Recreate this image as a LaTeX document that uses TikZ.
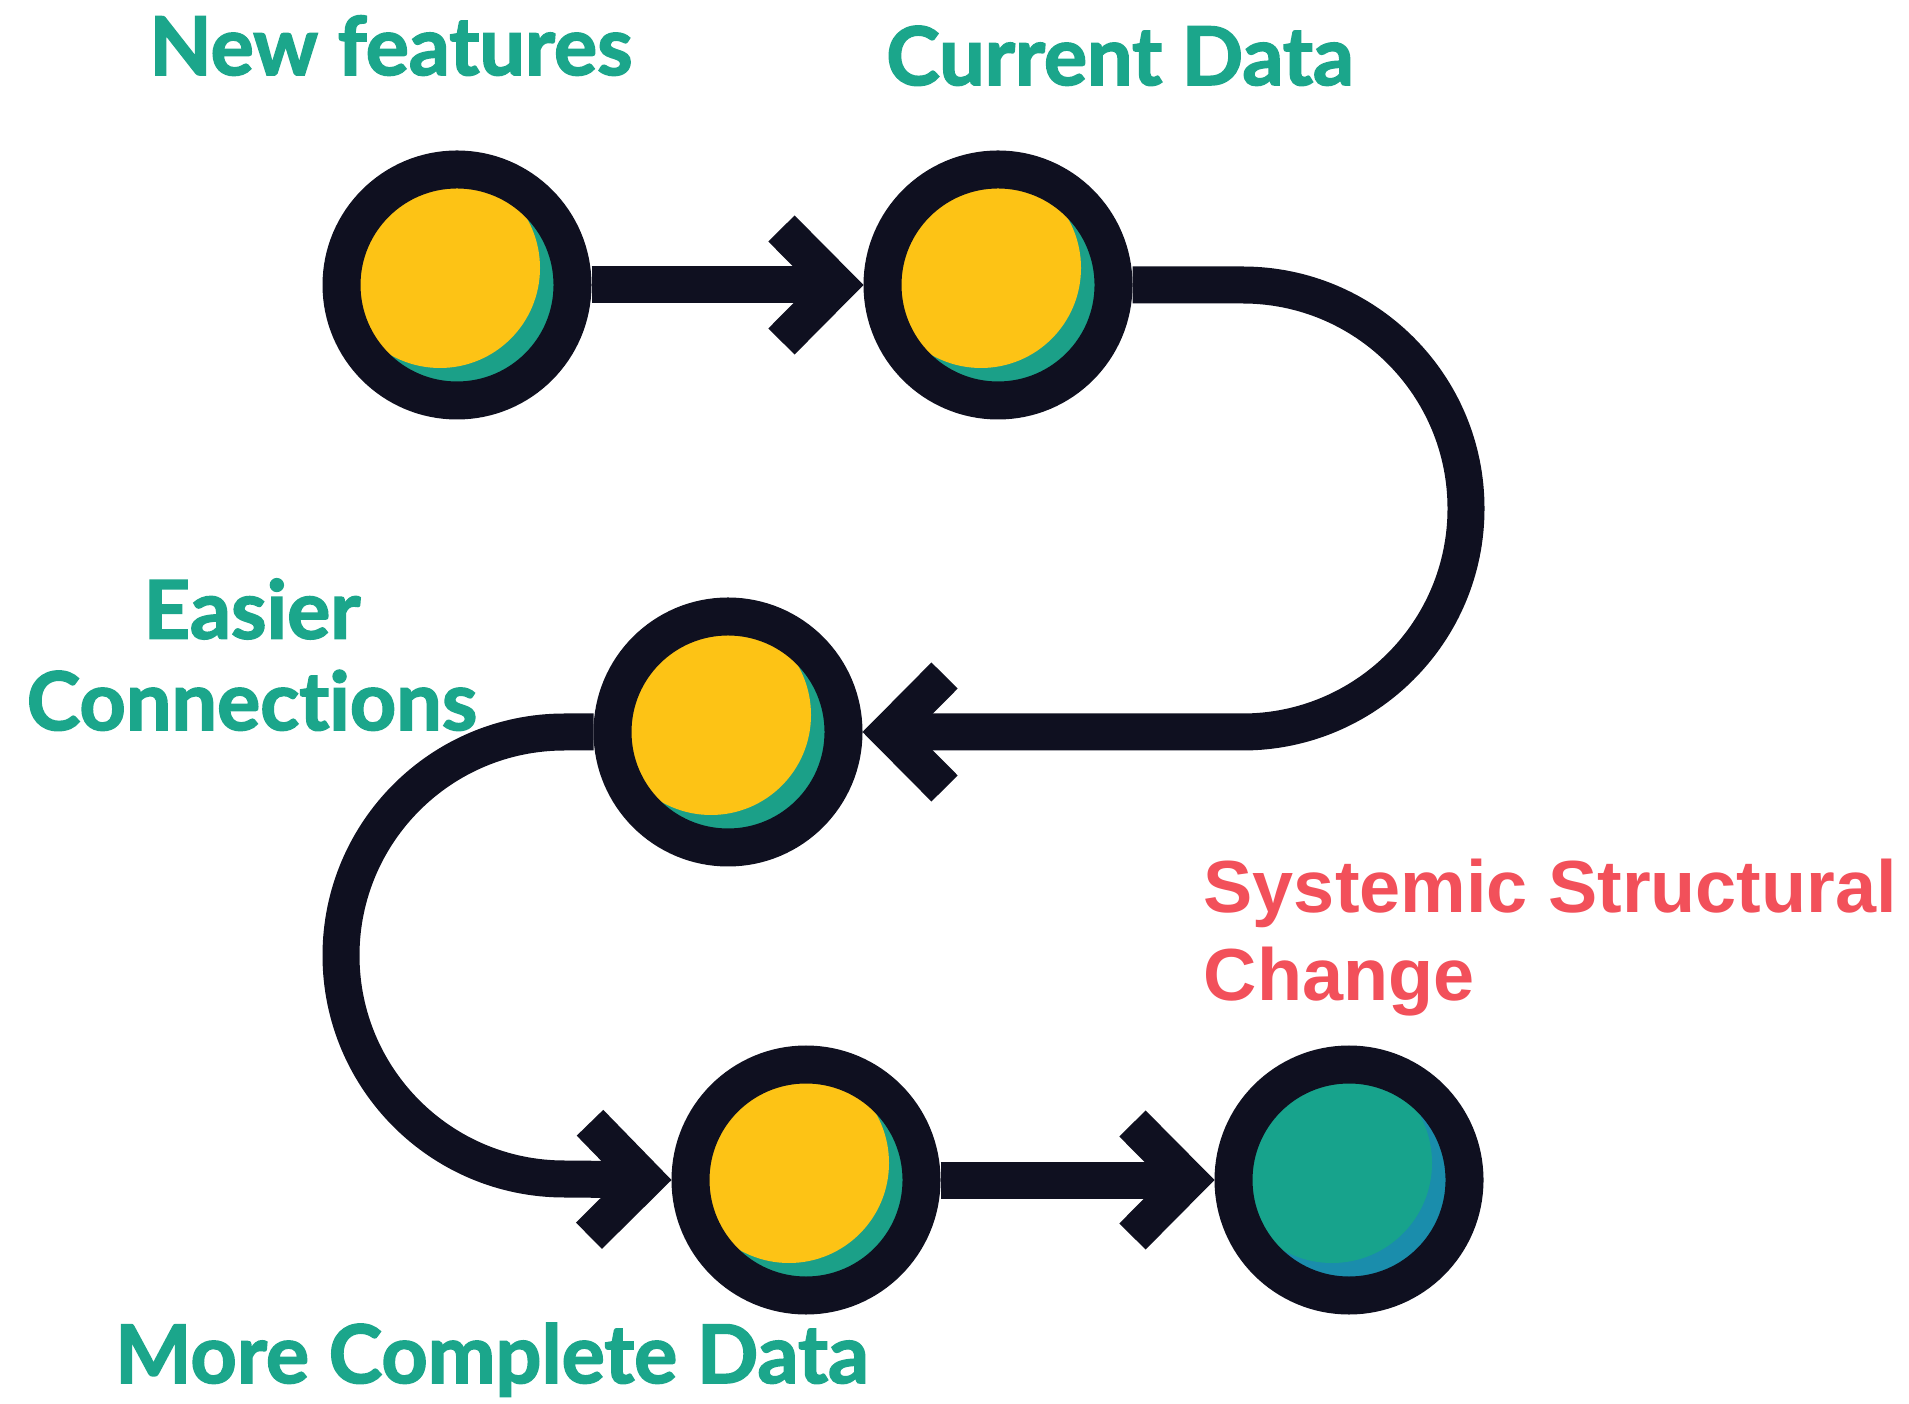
\documentclass[tikz,border=0pt]{standalone}
\usepackage{fontspec}
\usepackage{tikz}
\usetikzlibrary{arrows.meta}
\newfontfamily\stagefont{Lato}[Ligatures=NoCommon, BoldFeatures={FakeBold=2}]
\newfontfamily\goalfont{Liberation Sans}
\definecolor{ink}{HTML}{0F1020}
\definecolor{sun}{HTML}{FDC315}
\definecolor{mint}{HTML}{1BA088}
\definecolor{leaf}{HTML}{1BA68B}
\definecolor{sea}{HTML}{17A38C}
\definecolor{deep}{HTML}{1A8DAC}
\definecolor{coral}{HTML}{F2505A}

\begin{document}
\begin{tikzpicture}[
    ring/.style={circle, draw=ink, line width=3.8mm, minimum size=23.1mm, inner sep=0pt},
    link/.style={draw=ink, line width=3.7mm, -{Straight Barb[length=5.6mm, width=11.3mm, sharp]}},
    stage/.style={text=leaf, inner sep=0pt, font=\stagefont\bfseries\fontsize{23}{26}\selectfont},
    goal/.style={text=coral, inner sep=0pt, align=left, font=\goalfont\bfseries\fontsize{21}{25.2}\selectfont}
  ]
    \fill[white] (0,0) rectangle (19.09,14.03);
    \useasboundingbox (0,0) rectangle (19.09,14.03);

    \foreach \name / \x / \y / \fc / \bc in {nf/4.57/11.18/sun/mint, cd/9.98/11.18/sun/mint,
        ec/7.28/6.71/sun/mint, mcd/8.06/2.23/sun/mint, ssc/13.49/2.23/sea/deep} {
        \node[ring, fill=\bc, path picture={
            \fill[\fc] ([shift={(-0.17,0.17)}]path picture bounding box.center) circle (1.0);
          }] (\name) at (\x,\y) {};
    };

    \draw[link] (nf) -- (cd);
    \draw[link] (cd.east) -- ++(1.1,0) arc[start angle=90, end angle=-90, radius=2.235] -- (ec.east);
    \draw[link] (ec.west) -- ++(-0.29,0) arc[start angle=90, end angle=270, radius=2.235] -- (mcd.west);
    \draw[link] (mcd) -- (ssc);

    \node[stage, anchor=base] (nftext) at (3.91,13.28) {New features};
    \node[stage, anchor=base] (cdtext) at (11.20,13.18) {Current Data};
    \node[stage, anchor=north, align=center] (ectext) at (2.52,8.25) {Easier\\Connections};
    \node[stage, anchor=base] (mcdtext) at (4.92,0.2) {More Complete Data};
    \node[goal, anchor=north west] (ssctext) at (12.03,5.45) {Systemic Structural\\Change};
\end{tikzpicture}
\end{document}
